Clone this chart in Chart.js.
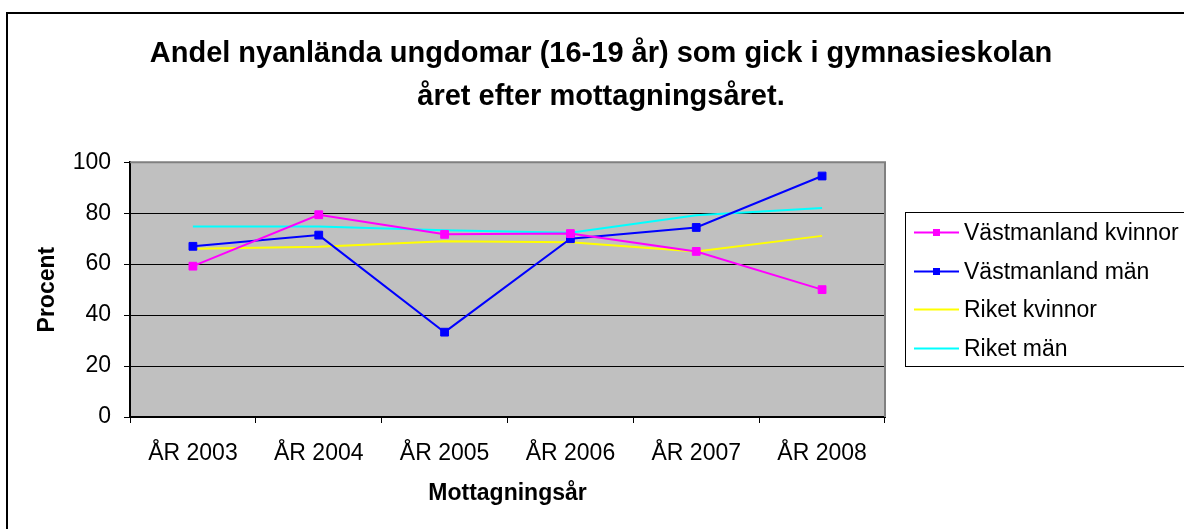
<!DOCTYPE html>
<html lang="sv">
<head>
<meta charset="utf-8">
<title>Andel nyanlända ungdomar i gymnasieskolan</title>
<script src="https://cdn.jsdelivr.net/npm/chart.js@4.4.1/dist/chart.umd.min.js"></script>
<style>
    html, body { margin: 0; padding: 0; background: #fff; }
    #wrap { position: relative; width: 1184px; height: 529px; overflow: hidden; }
</style>
</head>
<body>
<div id="wrap"><canvas id="chart" width="1184" height="529"></canvas></div>
<script>
    'use strict';

    // Data
    var years = ['ÅR 2003', 'ÅR 2004', 'ÅR 2005', 'ÅR 2006', 'ÅR 2007', 'ÅR 2008'];
    var vastmanlandKvinnor = [59.2, 79.4, 71.7, 72, 65, 50];
    var vastmanlandMan = [67, 71.4, 33.3, 70, 74.4, 94.6];
    var riketKvinnor = [66, 66.8, 69, 68.6, 65, 71.1];
    var riketMan = [74.8, 74.8, 73.3, 72.3, 79.2, 82];
    var yTicks = [0, 20, 40, 60, 80, 100];

    var FONT = '"Liberation Sans", Arial, Helvetica, sans-serif';

    /**
     * Gray plot area, outer frame and plot border like the Excel original
     */
    var framePlugin = {
        id: 'frame',
        beforeDraw: function(chart) {
            var ctx = chart.ctx;
            var area = chart.chartArea;
            ctx.save();
            ctx.fillStyle = '#ffffff';
            ctx.fillRect(0, 0, chart.width, chart.height);
            ctx.fillStyle = '#c0c0c0';
            ctx.fillRect(area.left, area.top, area.right - area.left, area.bottom - area.top);
            // outer chart frame (only left and top edges are inside the picture)
            ctx.strokeStyle = '#000000';
            ctx.lineWidth = 2;
            ctx.beginPath();
            ctx.moveTo(7, chart.height + 2);
            ctx.lineTo(7, 13);
            ctx.lineTo(chart.width + 2, 13);
            ctx.stroke();
            ctx.restore();
        },
        beforeDatasetsDraw: function(chart) {
            var ctx = chart.ctx;
            var area = chart.chartArea;
            ctx.save();
            ctx.strokeStyle = '#808080';
            ctx.lineWidth = 2;
            ctx.beginPath();
            ctx.moveTo(area.left, area.top);
            ctx.lineTo(area.right, area.top);
            ctx.lineTo(area.right, area.bottom);
            ctx.stroke();
            ctx.restore();
        }
    };

    /**
     * Boxed legend on the right, drawn from the dataset definitions
     */
    var boxLegendPlugin = {
        id: 'boxLegend',
        afterDraw: function(chart) {
            var ctx = chart.ctx;
            var left = 905, top = 212, height = 154;
            var rowStart = 232, rowGap = 38.5;
            ctx.save();
            ctx.fillStyle = '#ffffff';
            ctx.fillRect(left, top, chart.width - left + 5, height);
            ctx.strokeStyle = '#000000';
            ctx.lineWidth = 1;
            ctx.strokeRect(left + 0.5, top + 0.5, chart.width - left + 5, height);

            ctx.font = '23px ' + FONT;
            ctx.textBaseline = 'middle';
            ctx.textAlign = 'left';
            chart.data.datasets.forEach(function(ds, i) {
                var y = Math.round(rowStart + i * rowGap) + 0.5;
                ctx.strokeStyle = ds.borderColor;
                ctx.lineWidth = 2;
                ctx.beginPath();
                ctx.moveTo(914, y);
                ctx.lineTo(959, y);
                ctx.stroke();
                if (ds.pointRadius > 0) {
                    ctx.fillStyle = ds.borderColor;
                    ctx.fillRect(933, y - 3.5, 7, 7);
                }
                ctx.fillStyle = '#000000';
                ctx.fillText(ds.label, 964, y + 1);
            });
            ctx.restore();
        }
    };

    function lineSeries(label, values, color, markers) {
        return {
            label: label,
            data: values,
            borderColor: color,
            backgroundColor: color,
            borderWidth: 2,
            pointStyle: 'rect',
            pointRadius: markers ? 5.5 : 0,
            pointBorderWidth: 1,
            pointHoverRadius: markers ? 5.5 : 0,
            tension: 0,
            fill: false
        };
    }

    var ctx = document.getElementById('chart').getContext('2d');

    new Chart(ctx, {
        type: 'line',
        data: {
            labels: years,
            datasets: [
                lineSeries('Västmanland kvinnor', vastmanlandKvinnor, '#ff00ff', true),
                lineSeries('Västmanland män', vastmanlandMan, '#0000ff', true),
                lineSeries('Riket kvinnor', riketKvinnor, '#ffff00', false),
                lineSeries('Riket män', riketMan, '#00ffff', false)
            ]
        },
        options: {
            responsive: false,
            animation: false,
            devicePixelRatio: 1,
            layout: {
                padding: { left: 18, right: 0, top: 0, bottom: 0 }
            },
            plugins: {
                legend: { display: false },
                tooltip: { enabled: false },
                title: {
                    display: true,
                    text: ['Andel nyanlända ungdomar (16-19 år) som gick i gymnasieskolan',
                           'året efter mottagningsåret.'],
                    color: '#000000',
                    font: { family: FONT, size: 29, weight: 'bold', lineHeight: 1.47 },
                    padding: { top: 33, bottom: 44 }
                }
            },
            scales: {
                x: {
                    offset: true,
                    afterFit: function(scale) { scale.height = 112; },
                    grid: {
                        offset: true,
                        drawOnChartArea: false,
                        tickLength: 6,
                        tickColor: '#000000'
                    },
                    border: { color: '#000000', width: 2 },
                    ticks: {
                        color: '#000000',
                        font: { family: FONT, size: 23 },
                        padding: 17,
                        maxRotation: 0,
                        autoSkip: false
                    },
                    title: {
                        display: true,
                        text: 'Mottagningsår',
                        color: '#000000',
                        font: { family: FONT, size: 23, weight: 'bold' },
                        padding: { top: 0, bottom: 22 }
                    }
                },
                y: {
                    min: yTicks[0],
                    max: yTicks[yTicks.length - 1],
                    afterFit: function(scale) { scale.width = 112; },
                    afterBuildTicks: function(scale) {
                        scale.ticks = yTicks.map(function(v) { return { value: v }; });
                    },
                    grid: {
                        color: '#000000',
                        lineWidth: 1,
                        tickLength: 6,
                        tickColor: '#000000'
                    },
                    border: { color: '#000000', width: 2 },
                    ticks: {
                        color: '#000000',
                        font: { family: FONT, size: 23 },
                        padding: 13
                    },
                    title: {
                        display: true,
                        text: 'Procent',
                        color: '#000000',
                        font: { family: FONT, size: 23, weight: 'bold' },
                        padding: { top: 16, bottom: 0 }
                    }
                },
                // empty right-hand column that leaves room for the legend box
                legendSpace: {
                    type: 'linear',
                    position: 'right',
                    min: 0,
                    max: 1,
                    afterFit: function(scale) { scale.width = 299; },
                    grid: { display: false },
                    border: { display: false },
                    ticks: { display: false }
                }
            }
        },
        plugins: [framePlugin, boxLegendPlugin]
    });
</script>
</body>
</html>
